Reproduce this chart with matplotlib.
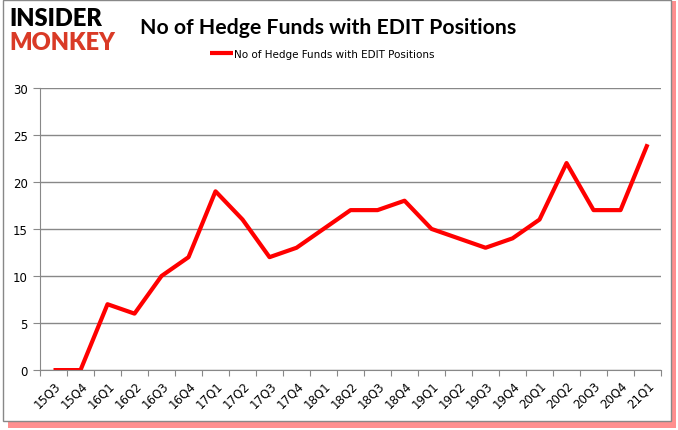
import matplotlib.pyplot as plt
from matplotlib.patches import Rectangle

# Datos
trimestres = ['15Q3', '15Q4', '16Q1', '16Q2', '16Q3', '16Q4', '17Q1', '17Q2',
              '17Q3', '17Q4', '18Q1', '18Q2', '18Q3', '18Q4', '19Q1', '19Q2',
              '19Q3', '19Q4', '20Q1', '20Q2', '20Q3', '20Q4', '21Q1']
num_fondos = [0, 0, 7, 6, 10, 12, 19, 16, 12, 13, 15, 17, 17, 18, 15, 14,
              13, 14, 16, 22, 17, 17, 24]
etiqueta_serie = 'No of Hedge Funds with EDIT Positions'
titulo = 'No of Hedge Funds with EDIT Positions'

fig = plt.figure(figsize=(6.78, 4.31), dpi=100)

# Marco con sombra roja
fig.patches.append(Rectangle((0.012, 0.005), 0.985, 0.99, transform=fig.transFigure,
                             facecolor='#ff2020', edgecolor='none', alpha=0.5, zorder=0))
fig.patches.append(Rectangle((0.005, 0.02), 0.985, 0.978, transform=fig.transFigure,
                             facecolor='white', edgecolor='#888888', linewidth=1, zorder=1))

ax = fig.add_axes([0.059, 0.139, 0.916, 0.655])
ax.set_zorder(2)
ax.patch.set_alpha(0)

x = range(len(trimestres))
ax.plot(x, num_fondos, color='#ff0000', linewidth=3, label=etiqueta_serie, solid_capstyle='butt')

ax.set_xlim(-0.5, len(trimestres) - 0.5)
ax.set_ylim(0, 30)
ax.set_yticks(range(0, 31, 5))
ax.yaxis.grid(True, color='#888888', linewidth=1)
ax.set_axisbelow(True)

ax.set_xticks([i - 0.5 for i in range(len(trimestres) + 1)])
ax.set_xticklabels([])
ax.set_xticks(list(x), minor=True)
ax.set_xticklabels(trimestres, minor=True, rotation=45, ha='right', rotation_mode='anchor',
                   fontsize=8.5)
ax.tick_params(axis='x', which='minor', length=0, pad=6)
ax.tick_params(axis='x', which='major', length=4, color='#888888', direction='out')
ax.tick_params(axis='y', length=5, color='#888888', labelsize=8.5, pad=4)

for lado in ['top', 'right']:
    ax.spines[lado].set_visible(False)
ax.spines['left'].set_color('#888888')
ax.spines['bottom'].set_color('#888888')

fig.text(0.484, 0.935, titulo, ha='center', va='center', fontsize=15.3, fontweight='bold',
         family='Lato')
ax.legend(loc='center', bbox_to_anchor=(0.455, 1.12), frameon=False, fontsize=7.5,
          handlelength=2.2, handletextpad=0.1)

# Logo
fig.text(0.014, 0.955, 'INSIDER', fontsize=17, fontweight='heavy', color='black',
         va='center', ha='left', family='Lato')
fig.text(0.014, 0.9, 'MONKEY', fontsize=17, fontweight='heavy', color='#d93a26',
         va='center', ha='left', family='Lato')

plt.savefig('out.png', dpi=100)
plt.close()
